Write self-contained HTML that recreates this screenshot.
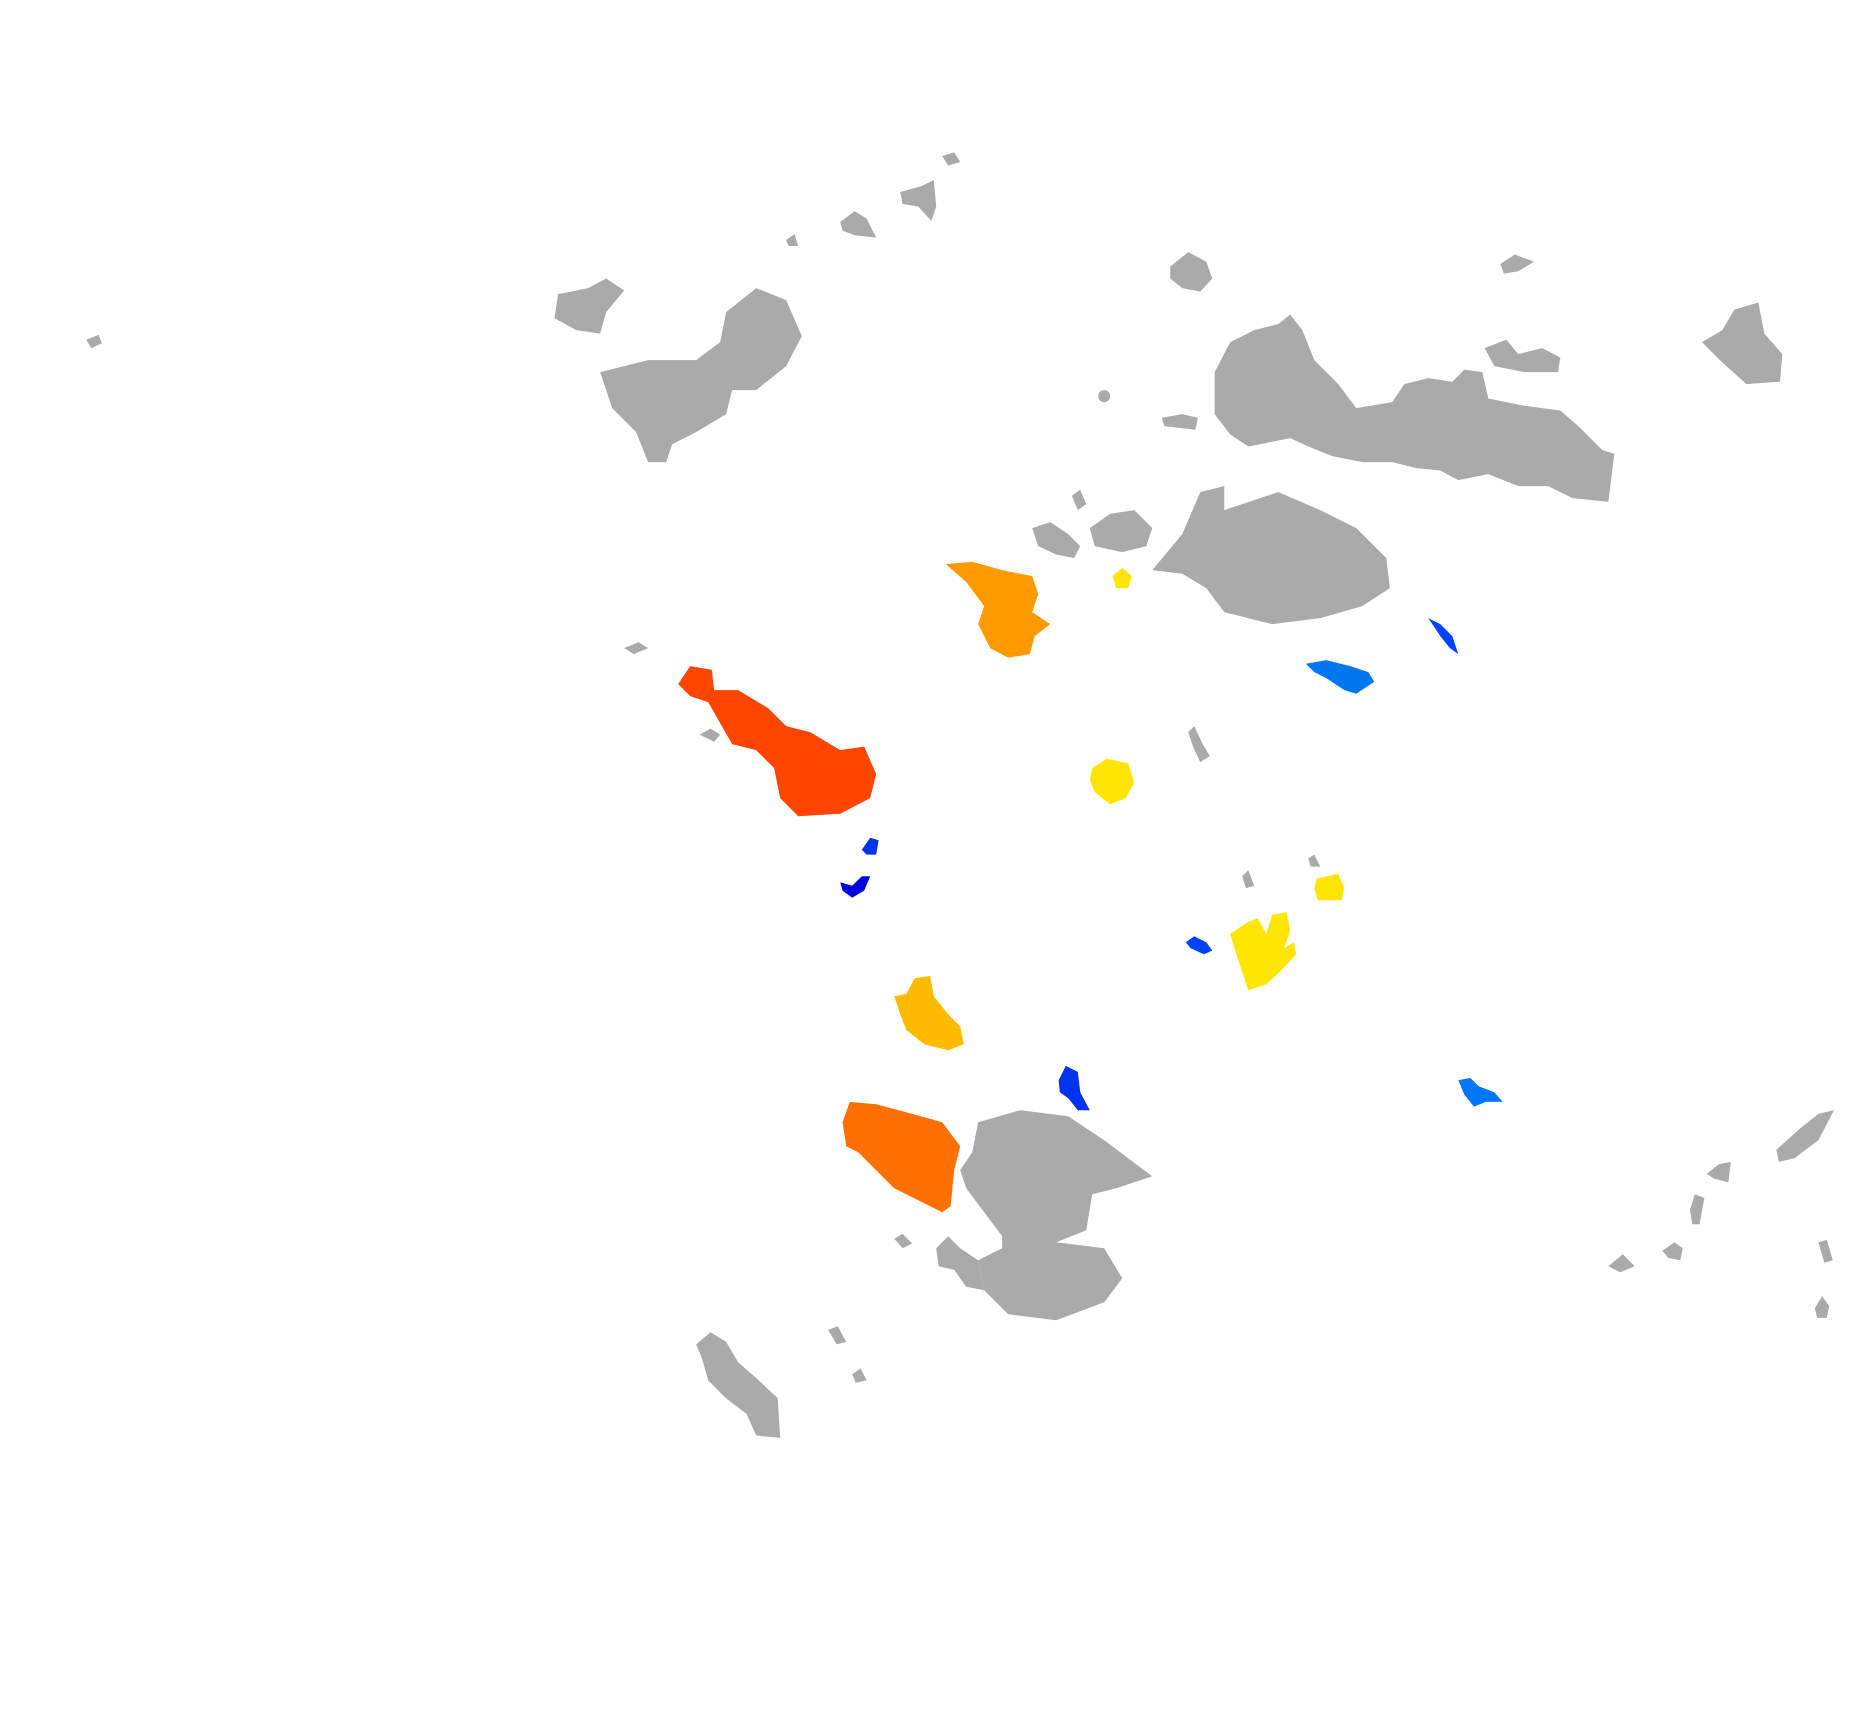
<!DOCTYPE html>
<html><head><meta charset="utf-8"><style>
html,body{margin:0;padding:0;background:#fff;}
svg{display:block;}
</style></head><body>
<svg width="1870" height="1714" viewBox="0 0 1558 1428" preserveAspectRatio="none" xmlns="http://www.w3.org/2000/svg">
<g fill="#aaaaaa">
<polygon points="500,310 540,300 580,300 600,285 605,260 630,240 655,250 668,280 655,305 630,325 610,325 605,345 580,360 560,370 555,385 540,385 530,360 510,340"/>
<polygon points="465,245 490,240 505,232 520,242 505,260 500,278 480,275 462,265"/>
<polygon points="700,185 712,176 722,182 730,198 712,196 702,192"/>
<polygon points="750,160 768,155 778,150 780,172 776,184 765,172 752,170"/>
<polygon points="785,130 795,127 800,135 790,138"/>
<polygon points="655,200 662,195 665,205 657,205"/>
<polygon points="72,283 82,279 85,286 76,290"/>
<polygon points="975,222 990,210 1005,218 1010,232 1000,243 985,240 975,232"/>
<polygon points="1012,310 1025,285 1045,275 1065,270 1075,262 1085,275 1095,300 1115,320 1130,340 1160,335 1170,320 1190,315 1210,318 1220,308 1235,310 1240,332 1270,338 1300,342 1315,355 1335,375 1345,378 1340,418 1310,415 1290,405 1265,405 1240,395 1215,400 1200,392 1180,390 1160,385 1135,385 1110,380 1090,372 1075,365 1060,368 1040,372 1025,362 1012,345"/>
<polygon points="1237,290 1255,283 1265,295 1285,290 1300,298 1298,310 1270,310 1245,305"/>
<polygon points="1418,285 1435,275 1445,258 1465,252 1470,278 1485,295 1483,318 1455,320 1435,302"/>
<polygon points="1250,220 1262,212 1278,218 1265,226 1253,228"/>
<polygon points="968,348 985,345 998,348 996,358 970,355"/>
<circle cx="920" cy="330" r="5"/>
<polygon points="960,475 985,445 1000,410 1020,405 1020,425 1065,410 1100,425 1130,440 1155,465 1158,490 1135,505 1100,515 1060,520 1020,510 1005,490 985,478"/>
<polygon points="908,440 925,428 945,425 960,440 955,455 935,460 912,455"/>
<polygon points="860,440 875,435 890,445 900,455 895,465 880,462 865,455"/>
<polygon points="893,413 900,408 905,420 898,425"/>
<polygon points="520,540 532,535 540,540 528,545"/>
<polygon points="583,612 592,607 600,612 595,618"/>
<polygon points="990,610 995,605 1002,620 1008,630 1000,635 994,622"/>
<polygon points="1035,730 1040,725 1045,738 1038,740"/>
<polygon points="1090,715 1095,712 1100,722 1092,722"/>
<polygon points="815,935 850,925 890,930 920,950 960,980 930,990 910,995 905,1025 880,1035 920,1040 935,1065 920,1085 880,1100 840,1095 820,1075 815,1050 835,1040 835,1030 820,1010 805,990 800,975 810,960"/>
<polygon points="780,1040 790,1030 800,1040 815,1050 820,1075 805,1072 795,1058 782,1055"/>
<polygon points="745,1032 752,1028 760,1036 752,1040"/>
<polygon points="580,1120 592,1110 605,1118 615,1135 630,1148 648,1165 650,1198 630,1196 622,1178 605,1165 590,1150 585,1132"/>
<polygon points="690,1108 698,1105 705,1118 697,1120"/>
<polygon points="710,1145 717,1140 722,1150 713,1152"/>
<polygon points="1480,958 1500,940 1515,928 1528,925 1515,950 1495,965 1482,968"/>
<polygon points="1422,978 1432,970 1442,968 1440,985 1428,982"/>
<polygon points="1408,1008 1412,995 1420,998 1416,1020 1410,1020"/>
<polygon points="1340,1055 1352,1045 1362,1055 1350,1060"/>
<polygon points="1385,1042 1395,1035 1402,1040 1400,1050 1390,1048"/>
<polygon points="1515,1035 1522,1033 1527,1050 1520,1052"/>
<polygon points="1512,1090 1518,1080 1524,1088 1522,1098 1514,1098"/>
</g>
<polygon fill="#ff4500" points="565,570 575,555 593,558 595,575 615,575 640,590 655,605 675,610 700,625 720,622 730,645 725,665 700,678 665,680 650,665 645,640 630,625 610,620 590,585 575,580"/>
<polygon fill="#ff9900" points="788,470 810,468 835,475 860,480 865,495 860,510 875,520 862,530 858,545 840,548 825,540 815,520 820,505 805,485"/>
<polygon fill="#ffe600" points="927,480 935,473 943,480 940,490 930,490"/>
<polygon fill="#ffe600" points="910,640 922,632 940,636 945,652 938,665 925,670 912,660 908,650"/>
<polygon fill="#ffe600" points="1097,732 1115,728 1120,740 1118,750 1098,750 1095,740"/>
<polygon fill="#ffe600" points="1025,778 1040,768 1048,765 1055,778 1060,762 1072,760 1075,775 1070,790 1078,785 1080,795 1068,808 1055,820 1040,825 1035,810 1030,795"/>
<polygon fill="#ffbb00" points="745,830 755,828 762,815 775,813 778,830 790,845 800,855 803,870 790,875 770,870 755,858 750,845"/>
<polygon fill="#ff7000" points="702,935 708,918 730,920 760,928 785,935 800,955 795,975 792,1005 785,1010 765,1000 745,990 730,975 715,960 705,955"/>
<polygon fill="#0044ff" points="1190,515 1200,520 1210,530 1215,545 1208,540 1200,530"/>
<polygon fill="#0077ee" points="1088,553 1105,550 1125,555 1140,560 1145,568 1130,578 1120,575 1105,565 1095,560"/>
<polygon fill="#0033ee" points="718,708 725,698 732,700 730,712 722,712"/>
<polygon fill="#0000dd" points="700,735 710,738 718,730 725,730 720,742 710,748 702,742"/>
<polygon fill="#0044ff" points="988,785 995,780 1005,785 1010,792 1003,795 992,790"/>
<polygon fill="#0033ee" points="882,900 888,888 898,893 900,910 908,925 898,925 890,915 883,910"/>
<polygon fill="#0077ff" points="1215,900 1225,898 1232,905 1245,910 1252,918 1238,918 1228,922 1220,912"/>
</svg>
</body></html>
